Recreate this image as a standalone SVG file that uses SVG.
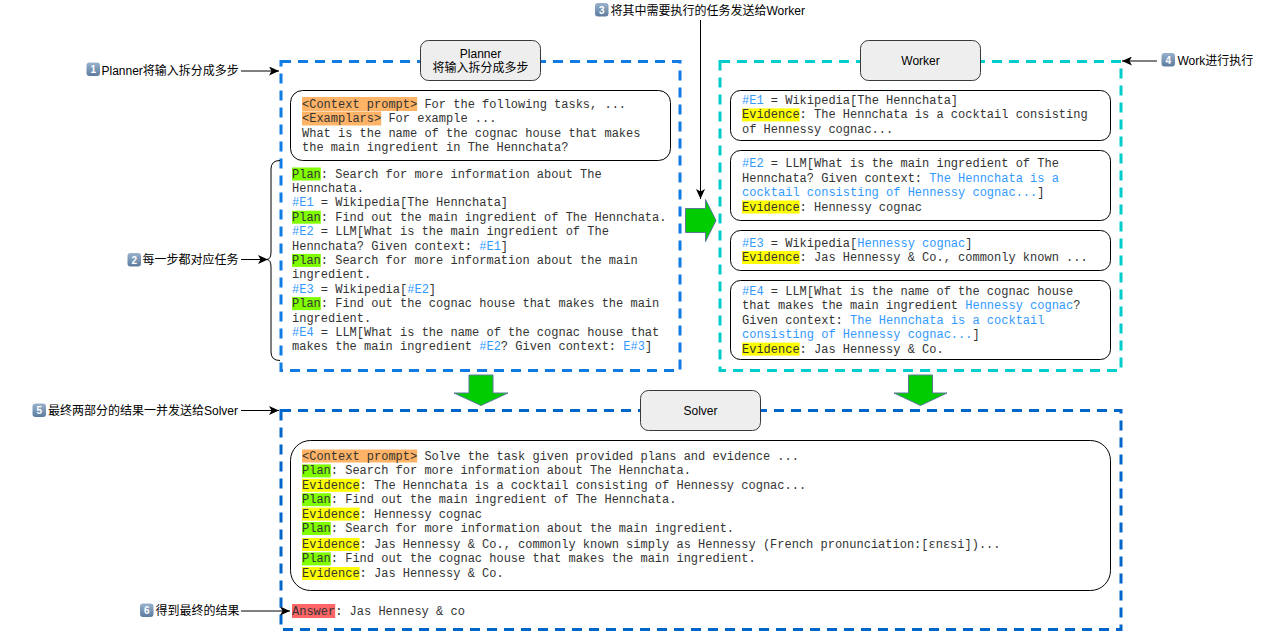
<svg xmlns="http://www.w3.org/2000/svg" width="1282" height="633" viewBox="0 0 1282 633">
<defs>
<linearGradient id="kc" x1="0" y1="0" x2="0" y2="1">
<stop offset="0" stop-color="#9AB2CC"/>
<stop offset="1" stop-color="#5B7C9F"/>
</linearGradient>
<marker id="arr" markerUnits="userSpaceOnUse" markerWidth="11" markerHeight="9" refX="10" refY="4.5" orient="auto">
<path d="M0,0 L10,4.5 L0,9 L2.5,4.5 z" fill="#000"/>
</marker>
<style>
.bg{fill:#fff}
.cont{fill:none;stroke-width:3;stroke-dasharray:10 7}
.lbl{fill:#EEEEEE;stroke:#36393D;stroke-width:1}
.inner{fill:#fff;stroke:#000;stroke-width:1}
.sans{font-family:"Liberation Sans",Arial,"Noto Sans CJK SC",sans-serif;font-size:12px;fill:#000}
.mono{font-family:"Liberation Mono","Courier New","DejaVu Sans Mono",monospace;font-size:12px;fill:#333}
.b{fill:#3399FF}
.hg{fill:#80FF00}
.hy{fill:#FFFF00}
.ho{fill:#FFB366}
.hr{fill:#FF6666}
.kc{fill:url(#kc)}
.kt{font-family:"Liberation Sans",Arial,sans-serif;font-size:10px;font-weight:bold;fill:#fff;text-anchor:middle}
.line{fill:none;stroke:#000;stroke-width:1}
.garr{fill:#00CC00;stroke:#5A7A96;stroke-width:1}
</style>
</defs>
<rect class="bg" x="0" y="0" width="1282" height="633"/>

<!-- containers -->
<g id="planner">
<rect class="cont" x="281" y="61.5" width="399" height="309" stroke="#0F7BE3"/>
</g>
<g id="worker">
<rect class="cont" x="720" y="61.5" width="401" height="309" stroke="#00CCCC"/>
</g>
<g id="solver">
<rect class="cont" x="281" y="410.5" width="840" height="219" stroke="#0066CC"/>
</g>

<!-- labels -->
<g id="planner-label">
<rect class="lbl" x="420.5" y="40.5" width="120" height="40" rx="8"/>
<text class="sans" x="480.5" y="57.5" text-anchor="middle">Planner</text>
<text class="sans" x="480.5" y="71.5" text-anchor="middle">将输入拆分成多步</text>
</g>
<g id="worker-label">
<rect class="lbl" x="860.5" y="40.5" width="120" height="40" rx="8"/>
<text class="sans" x="920.5" y="64.5" text-anchor="middle">Worker</text>
</g>
<g id="solver-label">
<rect class="lbl" x="640.5" y="390.5" width="120" height="40" rx="8"/>
<text class="sans" x="700.5" y="414.5" text-anchor="middle">Solver</text>
</g>

<!-- planner prompt box -->
<g id="planner-prompt">
<rect class="inner" x="290.5" y="90.5" width="380" height="70" rx="12"/>
<rect class="ho" x="302" y="97" width="115.2" height="14"/>
<rect class="ho" x="302" y="111.5" width="79.2" height="14"/>
<text class="mono" x="302" y="108">&lt;Context prompt&gt; For the following tasks, ...</text>
<text class="mono" x="302" y="122.4">&lt;Examplars&gt; For example ...</text>
<text class="mono" x="302" y="136.8">What is the name of the cognac house that makes</text>
<text class="mono" x="302" y="151.2">the main ingredient in The Hennchata?</text>
</g>

<!-- planner plan -->
<g id="planner-plan">
<rect class="hg" x="292" y="167.5" width="28.8" height="13"/>
<rect class="hg" x="292" y="210.7" width="28.8" height="13"/>
<rect class="hg" x="292" y="253.9" width="28.8" height="13"/>
<rect class="hg" x="292" y="297.1" width="28.8" height="13"/>
<text class="mono" x="292" y="177.5">Plan: Search for more information about The</text>
<text class="mono" x="292" y="191.9">Hennchata.</text>
<text class="mono" x="292" y="206.3"><tspan class="b">#E1</tspan> = Wikipedia[The Hennchata]</text>
<text class="mono" x="292" y="220.7">Plan: Find out the main ingredient of The Hennchata.</text>
<text class="mono" x="292" y="235.1"><tspan class="b">#E2</tspan> = LLM[What is the main ingredient of The</text>
<text class="mono" x="292" y="249.5">Hennchata? Given context: <tspan class="b">#E1</tspan>]</text>
<text class="mono" x="292" y="263.9">Plan: Search for more information about the main</text>
<text class="mono" x="292" y="278.3">ingredient.</text>
<text class="mono" x="292" y="292.7"><tspan class="b">#E3</tspan> = Wikipedia[<tspan class="b">#E2</tspan>]</text>
<text class="mono" x="292" y="307.1">Plan: Find out the cognac house that makes the main</text>
<text class="mono" x="292" y="321.5">ingredient.</text>
<text class="mono" x="292" y="335.9"><tspan class="b">#E4</tspan> = LLM[What is the name of the cognac house that</text>
<text class="mono" x="292" y="350.3">makes the main ingredient <tspan class="b">#E2</tspan>? Given context: <tspan class="b">E#3</tspan>]</text>
</g>

<!-- worker boxes -->
<g id="worker-e1">
<rect class="inner" x="730.5" y="90.5" width="380" height="50" rx="10"/>
<rect class="hy" x="742" y="108.4" width="57.6" height="13"/>
<text class="mono" x="742" y="104"><tspan class="b">#E1</tspan> = Wikipedia[The Hennchata]</text>
<text class="mono" x="742" y="118.4">Evidence: The Hennchata is a cocktail consisting</text>
<text class="mono" x="742" y="132.8">of Hennessy cognac...</text>
</g>
<g id="worker-e2">
<rect class="inner" x="730.5" y="150.5" width="380" height="70" rx="10"/>
<rect class="hy" x="742" y="200.5" width="57.6" height="13"/>
<text class="mono" x="742" y="167.3"><tspan class="b">#E2</tspan> = LLM[What is the main ingredient of The</text>
<text class="mono" x="742" y="181.7">Hennchata? Given context: <tspan class="b">The Hennchata is a</tspan></text>
<text class="mono" x="742" y="196.1"><tspan class="b">cocktail consisting of Hennessy cognac...</tspan>]</text>
<text class="mono" x="742" y="210.5">Evidence: Hennessy cognac</text>
</g>
<g id="worker-e3">
<rect class="inner" x="730.5" y="230.5" width="380" height="40" rx="10"/>
<rect class="hy" x="742" y="251" width="57.6" height="13"/>
<text class="mono" x="742" y="246.6"><tspan class="b">#E3</tspan> = Wikipedia[<tspan class="b">Hennessy cognac</tspan>]</text>
<text class="mono" x="742" y="261">Evidence: Jas Hennessy &amp; Co., commonly known ...</text>
</g>
<g id="worker-e4">
<rect class="inner" x="730.5" y="280.5" width="380" height="79" rx="10"/>
<rect class="hy" x="742" y="342.6" width="57.6" height="13"/>
<text class="mono" x="742" y="295"><tspan class="b">#E4</tspan> = LLM[What is the name of the cognac house</text>
<text class="mono" x="742" y="309.4">that makes the main ingredient <tspan class="b">Hennessy cognac</tspan>?</text>
<text class="mono" x="742" y="323.8">Given context: <tspan class="b">The Hennchata is a cocktail</tspan></text>
<text class="mono" x="742" y="338.2"><tspan class="b">consisting of Hennessy cognac...</tspan>]</text>
<text class="mono" x="742" y="352.6">Evidence: Jas Hennessy &amp; Co.</text>
</g>

<!-- solver box -->
<g id="solver-prompt">
<rect class="inner" x="290.5" y="440.5" width="820" height="150" rx="20"/>
<rect class="ho" x="302" y="449.5" width="115.2" height="13"/>
<rect class="hg" x="302" y="464.4" width="28.8" height="13"/>
<rect class="hy" x="302" y="478.8" width="57.6" height="13"/>
<rect class="hg" x="302" y="493.2" width="28.8" height="13"/>
<rect class="hy" x="302" y="507.6" width="57.6" height="13"/>
<rect class="hg" x="302" y="522" width="28.8" height="13"/>
<rect class="hy" x="302" y="538" width="57.6" height="13"/>
<rect class="hg" x="302" y="552.4" width="28.8" height="13"/>
<rect class="hy" x="302" y="567" width="57.6" height="13"/>
<text class="mono" x="302" y="460">&lt;Context prompt&gt; Solve the task given provided plans and evidence ...</text>
<text class="mono" x="302" y="474.4">Plan: Search for more information about The Hennchata.</text>
<text class="mono" x="302" y="488.8">Evidence: The Hennchata is a cocktail consisting of Hennessy cognac...</text>
<text class="mono" x="302" y="503.2">Plan: Find out the main ingredient of The Hennchata.</text>
<text class="mono" x="302" y="517.6">Evidence: Hennessy cognac</text>
<text class="mono" x="302" y="532">Plan: Search for more information about the main ingredient.</text>
<text class="mono" x="302" y="548">Evidence: Jas Hennessy &amp; Co., commonly known simply as Hennessy (French pronunciation:[ɛnɛsi])...</text>
<text class="mono" x="302" y="562.4">Plan: Find out the cognac house that makes the main ingredient.</text>
<text class="mono" x="302" y="577">Evidence: Jas Hennessy &amp; Co.</text>
</g>
<g id="answer">
<rect class="hr" x="292" y="604" width="43.2" height="14"/>
<text class="mono" x="292" y="614.5">Answer: Jas Hennesy &amp; co</text>
</g>

<!-- annotations -->
<g id="note1">
<rect class="kc" x="86.5" y="62.5" width="13.5" height="13.5" rx="3"/>
<text class="kt" x="93.2" y="73">1</text>
<text class="sans" x="101.5" y="75">Planner将输入拆分成多步</text>
</g>
<g id="note2">
<rect class="kc" x="127.5" y="253" width="13.5" height="13.5" rx="3"/>
<text class="kt" x="134.2" y="263.5">2</text>
<text class="sans" x="142.5" y="263.5">每一步都对应任务</text>
</g>
<g id="note3">
<rect class="kc" x="595" y="3" width="13.5" height="13.5" rx="3"/>
<text class="kt" x="601.7" y="13.5">3</text>
<text class="sans" x="610.5" y="14.5">将其中需要执行的任务发送给Worker</text>
</g>
<g id="note4">
<rect class="kc" x="1161.5" y="53" width="13.5" height="13.5" rx="3"/>
<text class="kt" x="1168.2" y="63.5">4</text>
<text class="sans" x="1177.5" y="64.5">Work进行执行</text>
</g>
<g id="note5">
<rect class="kc" x="32.5" y="403.5" width="13.5" height="13.5" rx="3"/>
<text class="kt" x="39.2" y="414">5</text>
<text class="sans" x="48" y="414.5">最终两部分的结果一并发送给Solver</text>
</g>
<g id="note6">
<rect class="kc" x="140" y="603.5" width="13.5" height="13.5" rx="3"/>
<text class="kt" x="146.7" y="614">6</text>
<text class="sans" x="155.5" y="615">得到最终的结果</text>
</g>

<!-- brace -->
<g id="brace">
<path class="line" d="M280,160.5 Q271,160.5 271,169 L271,252 Q271,259 267,259.5 Q271,260 271,267 L271,352 Q271,360.5 280,360.5"/>
</g>

<!-- block arrows -->
<g id="flow-arrows">
<polygon class="garr" points="685.5,208.5 705.5,208.5 705.5,199.5 716,220.5 705.5,241.5 705.5,232.5 685.5,232.5" stroke="#555"/>
<polygon class="garr" points="469,375 493,375 493,393 508,393 481,405.5 454,393 469,393"/>
<polygon class="garr" points="908.5,375 932.5,375 932.5,393 947,393 920.5,405.5 894,393 908.5,393"/>
</g>

<!-- connectors -->
<g id="connectors">
<line class="line" x1="241" y1="71" x2="279" y2="71" marker-end="url(#arr)"/>
<line class="line" x1="241" y1="259.5" x2="268" y2="259.5" marker-end="url(#arr)"/>
<line class="line" x1="700.5" y1="20" x2="700.5" y2="199" marker-end="url(#arr)"/>
<line class="line" x1="1157" y1="61" x2="1122" y2="61" marker-end="url(#arr)"/>
<line class="line" x1="241" y1="410.5" x2="279" y2="410.5" marker-end="url(#arr)"/>
<line class="line" x1="241" y1="611" x2="290" y2="611" marker-end="url(#arr)"/>
</g>
</svg>
